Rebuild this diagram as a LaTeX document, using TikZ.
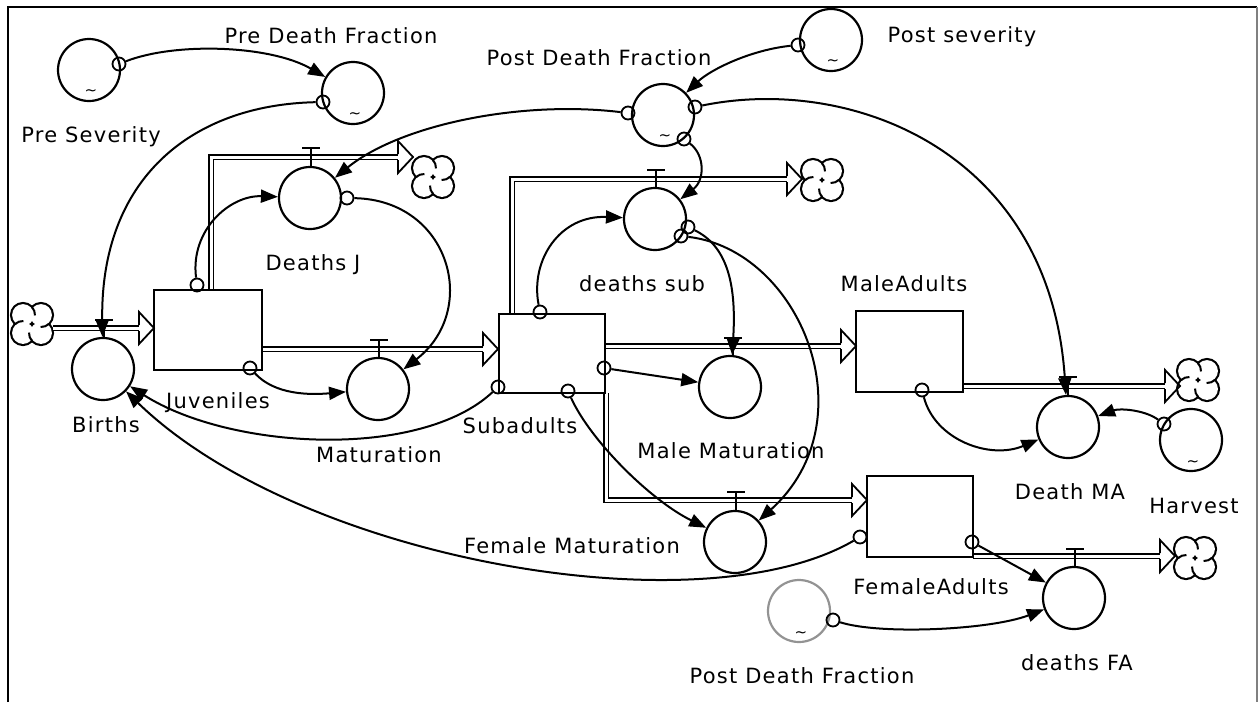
\documentclass[tikz,border=0pt]{standalone}
\usepackage{fontspec}
\setmainfont{DejaVu Sans}[LetterSpace=6]
\usetikzlibrary{arrows.meta}
\newcommand\myvalve[3]{\draw[line width=2pt] (#1-9,#2) -- (#1+9,#2) (#1,#2) -- (#1,#3);}
\newcommand\mytilde[2]{\node[font=\fontsize{15}{15}\selectfont, inner sep=0pt] at (#1+2,#2+23) {\textasciitilde};}
\begin{document}
\begin{tikzpicture}[x=1pt,y=-1pt,
  conv/.style={circle, draw, line width=2.2pt, minimum size=62pt, inner sep=0pt},
  stock/.style={draw, line width=2.2pt, inner sep=0pt},
  tail/.style={circle, draw, line width=1.8pt, minimum size=13pt, inner sep=0pt},
  conn/.style={line width=2pt, -{Triangle[length=17pt,width=13pt]}},
  lbl/.style={font=\fontsize{21}{24}\selectfont, anchor=base, inner sep=0pt},
  pipe/.style={double, double distance=3pt, line width=1.8pt},
  fhead/.pic={\draw[line width=1.8pt, line join=miter] (-15,-3) -- (-15,-16) -- (0,0) -- (-15,16) -- (-15,3);},
  cloudp/.pic={
    \fill[black] (9,9) circle (13.1) (-9,9) circle (13.1) (9,-9) circle (13.1) (-9,-9) circle (13.1);
    \fill[white] (9,9) circle (10.9) (-9,9) circle (10.9) (9,-9) circle (10.9) (-9,-9) circle (10.9);
    \foreach \r in {0,90,180,270}
      \draw[line width=2pt, rotate=\r] (0,16.94) arc[start angle=138.6, end angle=182, radius=12];
  }]
\useasboundingbox (0,0) rectangle (1258,702);
% frame
\draw[line width=2.8pt] (8,702) -- (8,7) -- (1257,7);
\draw[line width=1.6pt, gray] (1257,7) -- (1257,702);

% clouds
\coordinate (cl1) at (32,324);
\coordinate (cl2) at (433,177);
\coordinate (cl3) at (822,180);
\coordinate (cl4) at (1198,380);
\coordinate (cl5) at (1195,558);
\foreach \c in {cl1,cl2,cl3,cl4,cl5} \pic at (\c) {cloudp};

% pipes
\draw[pipe] (53,328) -- (139,328);            \pic at (154,328) {fhead};
\draw[pipe] (262,349) -- (483,349);           \pic at (498,349) {fhead};
\draw[pipe] (211,290) -- (211,157) -- (398,157); \pic at (413,157) {fhead};
\draw[pipe] (512,314) -- (512,179) -- (787,179); \pic at (802,179) {fhead};
\draw[pipe] (605,346) -- (841,346);           \pic at (856,346) {fhead};
\draw[pipe] (963,386) -- (1165,386);          \pic at (1180,386) {fhead};
\draw[pipe] (606,393) -- (606,500) -- (852,500); \pic at (867,500) {fhead};
\draw[pipe] (973,556) -- (1160,556);          \pic at (1175,556) {fhead};

% stocks
\node[stock, minimum width=108pt, minimum height=80pt] (juv) at (208,330) {};
\node[stock, minimum width=106pt, minimum height=79pt] (sub) at (552,353.5) {};
\node[stock, minimum width=107pt, minimum height=81pt] (male) at (909.5,351.5) {};
\node[stock, minimum width=106pt, minimum height=81pt] (fem) at (920,516.5) {};

% converters
\node[conv] (presev) at (89,70) {};
\node[conv] (predf) at (353,93) {};
\node[conv] (postdf) at (663,115) {};
\node[conv] (postsev) at (831,40) {};
\node[conv] (deathsJ) at (310,198) {};
\node[conv] (births) at (103,369) {};
\node[conv] (mat) at (378,389) {};
\node[conv] (dsub) at (655,219) {};
\node[conv] (malemat) at (730,387) {};
\node[conv] (deathMA) at (1068,427) {};
\node[conv] (harvest) at (1191,440) {};
\node[conv] (femmat) at (735,542) {};
\node[conv] (deathsFA) at (1074,598) {};
\node[conv, draw=gray!85] (postdf2) at (799,611) {};

\mytilde{89}{70}
\mytilde{353}{93}
\mytilde{663}{115}
\mytilde{831}{40}
\mytilde{1191}{440}
\mytilde{799}{611}

% valves
\myvalve{104}{320}{338}
\myvalve{379}{340}{358}
\myvalve{311}{148}{167}
\myvalve{656}{170}{188}
\myvalve{733}{338}{356}
\myvalve{1068}{377}{396}
\myvalve{736}{492}{511}
\myvalve{1075}{549}{567}

% connector tails
\node[tail] (t1) at (119,64) {};
\node[tail] (t2) at (323,102) {};
\node[tail] (t3) at (628,113) {};
\node[tail] (t4) at (798,45) {};
\node[tail] (t5) at (695,107) {};
\node[tail] (t6) at (684,139) {};
\node[tail] (t7) at (197,285) {};
\node[tail] (t8) at (347,198) {};
\node[tail] (t9) at (250,368) {};
\node[tail] (t10) at (498,387) {};
\node[tail] (t11) at (540,312) {};
\node[tail] (t12) at (688,227) {};
\node[tail] (t13) at (681,236) {};
\node[tail] (t14) at (604,368) {};
\node[tail] (t15) at (568,391) {};
\node[tail] (t16) at (922,390) {};
\node[tail] (t17) at (1164,424) {};
\node[tail] (t18) at (860,537) {};
\node[tail] (t19) at (972,542) {};
\node[tail] (t20) at (833,620) {};

% connectors
\draw[conn] (t1) .. controls (175,42) and (270,45) .. (predf);
\draw[conn] (t2) .. controls (190,105) and (100,180) .. (births);
\draw[conn] (t3) .. controls (520,100) and (400,125) .. (deathsJ);
\draw[conn] (t4) .. controls (750,50) and (710,70) .. (postdf);
\draw[conn] (t5) .. controls (850,75) and (1050,150) .. (deathMA);
\draw[conn] (t6) .. controls (705,155) and (705,180) .. (dsub);
\draw[conn] (t7) .. controls (190,230) and (230,195) .. (deathsJ);
\draw[conn] (t8) .. controls (450,200) and (480,310) .. (mat);
\draw[conn] (t9) .. controls (275,395) and (310,395) .. (mat);
\draw[conn] (t10) .. controls (420,460) and (230,450) .. (births);
\draw[conn] (t11) .. controls (530,260) and (560,215) .. (dsub);
\draw[conn] (t12) .. controls (725,245) and (737,280) .. (malemat);
\draw[conn] (t13) .. controls (800,250) and (870,420) .. (femmat);
\draw[conn] (t14) -- (malemat);
\draw[conn] (t15) .. controls (590,440) and (650,500) .. (femmat);
\draw[conn] (t16) .. controls (935,440) and (990,460) .. (deathMA);
\draw[conn] (t17) .. controls (1145,410) and (1120,408) .. (deathMA);
\draw[conn] (t18) .. controls (700,630) and (300,560) .. (births);
\draw[conn] (t19) -- (deathsFA);
\draw[conn] (t20) .. controls (880,635) and (990,630) .. (deathsFA);

% labels
\node[lbl] (l1) at (91,142) {Pre Severity};
\node[lbl] (l2) at (331,43) {Pre Death Fraction};
\node[lbl] (l3) at (599,65) {Post Death Fraction};
\node[lbl] (l4) at (962,42) {Post severity};
\node[lbl] (l5) at (313,270) {Deaths J};
\node[lbl] (l6) at (106,432) {Births};
\node[lbl] (l7) at (218,408) {Juveniles};
\node[lbl] (l8) at (379,462) {Maturation};
\node[lbl] (l9) at (642,291) {deaths sub};
\node[lbl] (l10) at (520,433) {Subadults};
\node[lbl] (l11) at (731,458) {Male Maturation};
\node[lbl] (l12) at (904,291) {MaleAdults};
\node[lbl] (l13) at (1070,499) {Death MA};
\node[lbl] (l14) at (1194,513) {Harvest};
\node[lbl] (l15) at (931,594) {FemaleAdults};
\node[lbl] (l16) at (1077,670) {deaths FA};
\node[lbl] (l17) at (572,553) {Female Maturation};
\node[lbl] (l18) at (802,683) {Post Death Fraction};
\end{tikzpicture}
\end{document}
